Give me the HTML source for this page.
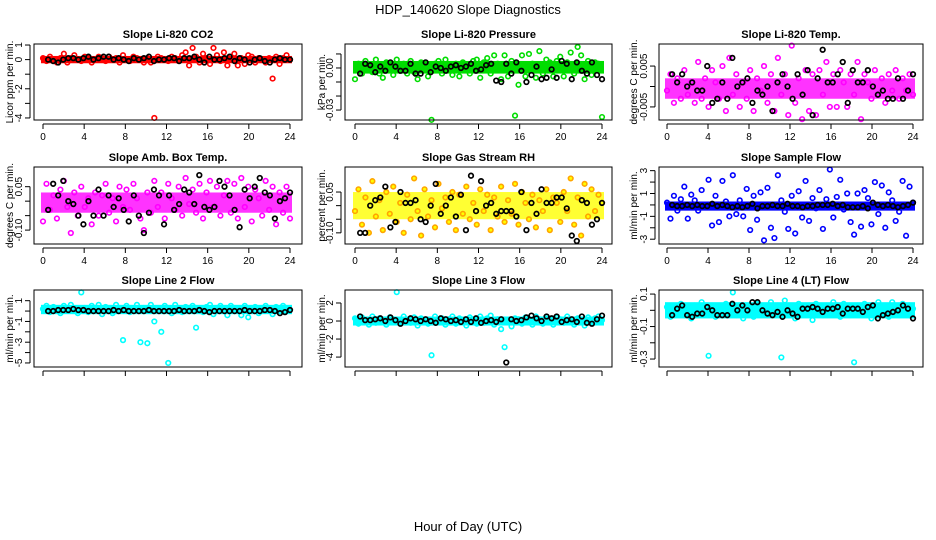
<!DOCTYPE html>
<html><head><meta charset="utf-8"><style>
body{margin:0;background:#fff;}
svg{display:block;font-family:"Liberation Sans",sans-serif;}
</style></head><body>
<svg id="chart" width="936" height="540">
<text x="468" y="14" text-anchor="middle" font-size="13">HDP_140620  Slope Diagnostics</text>
<text x="468" y="531" text-anchor="middle" font-size="13">Hour of Day (UTC)</text>
</svg>
<script>
// ---- data ----
const hourTicks = [0,4,8,12,16,20,24];
const co2Colored = [0.1,-0.1,0.2,0,-0.2,0.1,0.4,-0.2,0.1,0.3,0,-0.1,0.2,0.1,-0.2,0,0.2,0.1,-0.1,0.2,0,0.1,-0.2,0.3,0,-0.1,0.2,0.1,0,-0.2,0.1,-0.2,-4.0,0.2,0.1,0,-0.1,0.2,0.1,-0.1,0.3,0.5,-0.4,0.8,0.2,-0.2,0.4,0.1,-0.3,0.8,0.3,-0.1,0.5,-0.4,0.2,0.4,-0.4,0.1,-0.3,0.3,0.2,-0.2,0.1,0,-0.2,0.1,-1.3,0.2,-0.3,0.1,0.3,0];
const co2Black = [0,-0.1,-0.2,0,0.1,0.1,0,0.1,0.2,0,0.1,0.2,0.2,0,0.1,0,-0.1,0.1,0,0.1,0.2,-0.1,0,0,0.1,0.1,-0.1,0.1,0.1,0.2,0,-0.2,0.2,0,0,0.1,0.2,-0.1,0.1,0,-0.2,0,0.1,-0.1,-0.2,0,0.1,0,0];
const co2Band = [-0.25,0.25];
const co2Ticks = [1,0,-1,-2,-3,-4];
const co2Labels = ["1","0","","-2","","-4"];

const presColored = [-0.008,0.003,-0.004,0.005,0.002,-0.003,0.006,-0.004,-0.007,0.004,0.001,-0.005,0.006,-0.002,0.003,-0.004,0.005,-0.003,-0.008,0.004,0.002,-0.006,-0.037,0.003,0.005,-0.004,0.006,0.002,-0.005,0.003,-0.006,0.004,0.001,-0.004,0.005,0.006,-0.007,0.004,0.007,-0.004,0.009,0.003,-0.008,0.009,-0.006,0.005,-0.034,-0.012,0.009,-0.006,0.010,0.003,-0.007,0.012,-0.004,0.006,0.004,-0.006,0.005,0.008,-0.006,0.004,0.011,-0.004,0.015,0.009,-0.008,0.005,-0.005,0.004,0.003,-0.035];
const presBlack = [-0.004,0.003,0.002,-0.003,0.001,-0.002,0.004,0.001,-0.002,-0.002,0.003,-0.004,-0.004,0.004,-0.003,0.001,0,-0.002,0.001,0.002,0,0.001,0.003,-0.002,-0.001,0.002,0.003,-0.009,-0.01,0.003,-0.004,0.004,-0.002,-0.01,-0.005,0.001,-0.008,-0.007,-0.001,-0.007,0.005,0.003,-0.008,0.004,-0.002,-0.004,0.004,-0.005,-0.008];
const presBand = [-0.004,0.005];
const presTicks = [0.01,0,-0.01,-0.02,-0.03];
const presLabels = ["","0.00","","","-0.03"];

const tempColored = [-0.001,0.003,-0.004,0.002,-0.003,0.004,-0.002,0.001,-0.004,0.006,-0.003,0.002,-0.005,0.004,0.001,-0.003,0.005,-0.006,0.007,-0.002,0.003,-0.005,0.001,-0.003,0.004,-0.006,0.002,-0.001,0.005,-0.004,0.003,-0.006,0.007,-0.002,0.003,-0.007,0.010,-0.004,0.002,-0.008,0.004,-0.006,0.003,-0.007,0.004,-0.002,0.006,-0.005,0.003,-0.005,0.004,0.001,-0.005,0.003,-0.002,0.006,-0.008,0.003,0.001,-0.003,0.004,-0.002,0.002,-0.004,0.003,-0.001,0.004,-0.003,0.002,-0.001,0.003,-0.002];
const tempBlack = [0.003,0.001,0.003,0,0.001,-0.001,-0.001,0.005,-0.004,-0.003,0.001,-0.003,0.007,0,0.001,0.002,-0.004,-0.001,-0.002,0,-0.006,0.001,0.003,0,-0.003,0.003,-0.002,0.004,-0.007,0.002,0.009,0.001,0.001,0.003,0.006,-0.004,0.004,0.001,0.001,0.004,0,-0.002,-0.001,-0.003,-0.003,0.002,-0.003,-0.001,0.003];
const tempBand = [-0.003,0.002];
const tempTicks = [0.005,0,-0.005];
const tempLabels = ["0.005","","-0.005"];

const ambColored = [-0.07,0.06,-0.03,0.02,-0.06,0.04,0.07,-0.02,-0.11,0.03,-0.05,0.05,-0.02,0.01,-0.08,0.03,-0.05,0.02,0.06,-0.04,0.01,-0.07,0.05,-0.02,0.04,-0.03,0.06,0.01,-0.06,-0.10,0.03,-0.04,0.07,-0.02,0.03,-0.06,0.06,0.01,-0.03,0.05,-0.05,0.08,-0.01,0.04,-0.04,0.06,-0.06,0.03,0.07,-0.02,0.05,-0.05,0.02,0.07,-0.04,0.06,-0.06,0.08,-0.02,0.05,-0.07,0.04,0.01,-0.05,0.07,-0.03,0.05,-0.08,0.03,-0.04,0.05,-0.06];
const ambBlack = [-0.03,0.06,0.02,0.07,0,-0.01,-0.05,-0.08,0,-0.05,0.04,-0.05,0.02,-0.02,0.01,-0.03,-0.07,0.02,-0.05,-0.11,-0.04,0.04,0.02,-0.08,0.02,-0.03,-0.01,0.04,0.03,-0.01,0.09,-0.02,-0.03,-0.02,0.07,0.05,0.02,-0.03,-0.09,0.04,0.01,0.05,0.08,0.03,0.02,-0.06,0,0.01,0.03];
const ambBand = [-0.04,0.03];
const ambTicks = [0.05,0,-0.05,-0.10];
const ambLabels = ["0.05","","","-0.10"];

const rhColored = [-0.02,0.06,-0.07,0.03,-0.10,0.09,-0.04,0.02,-0.09,0.05,-0.03,0.07,-0.06,0.01,-0.10,0.04,-0.05,0.10,-0.02,-0.11,0.06,-0.04,0.02,-0.08,0.08,-0.01,0.03,-0.06,0.05,-0.09,0.04,-0.03,0.07,-0.05,0.01,-0.07,0.06,-0.02,0.04,-0.09,0.03,-0.04,0.07,-0.06,0.02,-0.03,0.08,-0.07,0.05,0.01,-0.05,0.04,-0.08,0.02,-0.02,0.06,-0.09,0.03,0.01,-0.06,0.05,-0.02,0.10,-0.07,0.03,-0.11,0.08,-0.04,0.06,-0.02,0.04,0.01];
const rhBlack = [-0.1,-0.1,0,0.02,0.03,0.07,-0.08,-0.06,0.05,0.01,0.01,0.02,-0.05,-0.06,0,0.08,-0.03,0,0.03,-0.04,0.04,-0.09,0.11,-0.02,0.09,0,0.01,-0.03,-0.02,-0.02,-0.02,-0.04,0.05,-0.09,0.01,-0.03,0.06,0.01,0.01,0.03,0.03,-0.01,-0.11,-0.13,0.02,0.01,-0.07,-0.05,0.01];
const rhBand = [-0.05,0.05];
const rhTicks = [0.05,0,-0.05,-0.10];
const rhLabels = ["0.05","","","-0.10"];

const sampColored = [0.2,-1.2,0.8,-0.5,0.5,1.6,-1.2,0.9,0.4,-0.5,1.3,-0.2,2.2,-1.8,0.8,-1.5,2.1,0.3,-1.0,2.6,-0.8,0.4,-1.0,1.4,-2.2,0.8,-1.3,1.1,-3.1,1.5,-2.0,-2.9,2.6,0.4,-0.6,-2.1,0.8,-2.5,1.2,-1.1,2.1,-1.4,0.6,-0.3,1.3,-2.1,0.5,3.1,-1.1,0.7,2.2,-0.4,1.0,-1.5,-2.6,1.0,-1.9,1.3,0.6,-1.7,2.0,-0.8,1.7,-2.0,1.1,0.4,-1.4,-0.6,2.1,-2.7,1.6,0.2];
const sampBlack = [0,-0.1,-0.1,0,-0.1,0,-0.1,-0.1,0.1,-0.1,0,-0.1,-0.2,-0.1,-0.2,-0.1,0.1,-0.3,-0.1,-0.1,0,-0.1,-0.1,0.1,-0.1,-0.1,-0.2,-0.1,-0.1,0,0,0,0.1,-0.1,0,-0.2,-0.2,-0.2,-0.1,-0.3,0.2,0,-0.1,0,-0.1,-0.2,-0.1,0,0.2];
const sampBand = [-0.5,0.3];
const sampTicks = [3,2,1,0,-1,-2,-3];
const sampLabels = ["3","","1","","-1","","-3"];

const l2Colored = [0.2,0.5,-0.1,0.4,0.1,-0.2,0.5,0.2,0.6,0.0,-0.2,1.8,0.3,-0.1,0.5,0.1,0.6,-0.3,0.4,0.2,-0.2,0.6,0.3,-2.8,0.5,-0.1,0.2,0.6,-3.0,0.3,-3.1,0.6,-1.0,0.2,-2.0,0.5,-5.0,-0.2,0.6,0.3,-0.1,0.4,0.2,0.5,-1.6,0.2,-0.1,0.4,0.6,-0.3,0.2,0.5,0.1,-0.4,0.5,0.3,0.0,-0.4,0.5,-0.6,0.2,0.4,-0.2,0.3,0.5,0.1,-0.3,0.4,0.2,0.5,0.3,0.1];
const l2Black = [0,0,0.1,0.1,0.1,0.2,0.1,0.1,0,0,0,0,0,0.1,0,0.1,0,0,0,0,0.1,0,0,0,0,0,0.1,0,0,0,0.1,0,-0.1,0,0,0,0,0,0,0.1,0,0,0,0.1,0.1,0,-0.2,-0.1,0.1];
const l2Band = [-0.3,0.6];
const l2Ticks = [1,0,-1,-2,-3,-4,-5];
const l2Labels = ["1","","-1","","-3","","-5"];

const l3Colored = [0.3,-0.3,0.4,0.1,-0.4,0.5,-0.2,0.3,0.0,-0.4,0.4,0.2,3.2,-0.3,0.5,0.1,-0.2,0.4,-0.5,0.3,0.1,-0.3,-3.8,0.5,-0.1,0.3,-0.4,0.2,0.5,-0.3,0.3,0.1,-0.5,0.4,0.2,-0.3,0.5,-0.2,0.3,0.6,-0.4,0.2,-0.9,-2.9,0.1,-0.6,0.3,0.2,-0.3,0.4,0.1,-0.4,0.5,0.2,-0.3,0.3,0.1,-0.4,0.4,0.2,-0.2,0.5,0.0,-0.4,0.3,0.1,-0.5,0.4,-0.2,0.3,0.5,0.1];
const l3Black = [0.5,0.1,0.1,0.2,0.3,0,0.4,0.1,-0.3,0,0.3,0.2,0,0.2,0,-0.2,0.3,0.2,0,0.1,-0.1,0.2,-0.1,0.3,-0.2,0,0.1,-0.1,0.2,-4.6,0.2,0,0.1,0.4,0.6,0.3,0,0.5,0.3,0.5,-0.1,0.1,0.2,-0.1,0.5,-0.2,-0.3,0.2,0.6];
const l3Band = [-0.5,0.5];
const l3Ticks = [2,0,-2,-4];
const l3Labels = ["2","0","-2","-4"];

const l4Colored = [0.02,-0.04,0.03,-0.01,0.04,-0.03,0.01,-0.05,0.03,-0.02,0.05,0.00,-0.28,0.03,-0.04,0.02,-0.02,0.04,0.01,0.11,-0.03,0.02,-0.05,0.03,0.01,-0.04,0.04,-0.02,0.02,-0.03,0.05,-0.01,0.03,-0.29,0.06,-0.03,0.02,-0.05,0.04,0.00,-0.02,0.03,-0.06,0.04,0.01,-0.03,0.03,-0.02,0.05,0.02,-0.04,0.04,0.01,-0.03,-0.32,0.03,-0.02,0.04,0.02,-0.05,0.03,0.05,-0.02,0.02,-0.04,0.05,0.01,-0.03,0.04,-0.01,0.03,0.01];
const l4Black = [-0.03,0.01,0.03,-0.03,-0.04,-0.02,-0.02,0.02,0,-0.03,-0.03,-0.03,0.04,0,0.03,0,0.05,0.05,0.0,-0.02,-0.03,-0.01,-0.04,0,-0.02,-0.04,0.01,0.01,0.02,0.01,-0.01,0.01,0.01,0.02,-0.02,0.01,0.01,0.01,-0.01,0.02,0.03,-0.05,-0.03,-0.02,-0.01,0,0.03,0.01,-0.05];
const l4Band = [-0.05,0.05];
const l4Ticks = [0.1,0,-0.1,-0.2,-0.3];
const l4Labels = ["0.1","","-0.1","","-0.3"];

// ---- layout ----
const cols = [{bx0:34,bx1:302,h0:43,h24:290,yt:10},{bx0:345,bx1:612,h0:355,h24:602,yt:322},{bx0:659,bx1:923,h0:667,h24:913,yt:634}];
const rows = [{by0:44,by1:120,showX:true},{by0:167,by1:244,showX:true},{by0:290,by1:367,showX:false}];
const panels = [
 {r:0,c:0,title:"Slope Li-820 CO2",ylab:"Licor ppm per min.",top:1.07,bot:-4.14,col:"#ff0000",fill:"none",op:1,cd:co2Colored,bd:co2Black,band:co2Band,ticks:co2Ticks,labels:co2Labels},
 {r:0,c:1,title:"Slope Li-820 Pressure",ylab:"kPa per min.",top:0.0171,bot:-0.0371,col:"#00dd00",fill:"none",op:1,cd:presColored,bd:presBlack,band:presBand,ticks:presTicks,labels:presLabels},
 {r:0,c:2,title:"Slope Li-820 Temp.",ylab:"degrees C per min.",top:0.0104,bot:-0.0082,col:"#ff00ff",fill:"none",op:0.8,cd:tempColored,bd:tempBlack,band:tempBand,ticks:tempTicks,labels:tempLabels},
 {r:1,c:0,title:"Slope Amb. Box Temp.",ylab:"degrees C per min.",top:0.118,bot:-0.148,col:"#ff00ff",fill:"none",op:0.8,cd:ambColored,bd:ambBlack,band:ambBand,ticks:ambTicks,labels:ambLabels},
 {r:1,c:1,title:"Slope Gas Stream RH",ylab:"percent per min.",top:0.142,bot:-0.141,col:"#ffa500",fill:"#ffff00",op:0.8,cd:rhColored,bd:rhBlack,band:rhBand,ticks:rhTicks,labels:rhLabels},
 {r:1,c:2,title:"Slope Sample Flow",ylab:"ml/min per min.",top:3.32,bot:-3.42,col:"#0000ff",fill:"none",op:1,cd:sampColored,bd:sampBlack,band:sampBand,ticks:sampTicks,labels:sampLabels},
 {r:2,c:0,title:"Slope Line 2 Flow",ylab:"ml/min per min.",top:2.03,bot:-5.39,col:"#00ffff",fill:"none",op:1,cd:l2Colored,bd:l2Black,band:l2Band,ticks:l2Ticks,labels:l2Labels},
 {r:2,c:1,title:"Slope Line 3 Flow",ylab:"ml/min per min.",top:3.44,bot:-5.1,col:"#00ffff",fill:"none",op:1,cd:l3Colored,bd:l3Black,band:l3Band,ticks:l3Ticks,labels:l3Labels},
 {r:2,c:2,title:"Slope Line 4 (LT) Flow",ylab:"ml/min per min.",top:0.125,bot:-0.349,col:"#00ffff",fill:"none",op:1,cd:l4Colored,bd:l4Black,band:l4Band,ticks:l4Ticks,labels:l4Labels}
];
const NS="http://www.w3.org/2000/svg";
const svg=document.getElementById('chart');
function mk(tag,attrs,parent){const e=document.createElementNS(NS,tag);for(const k in attrs)e.setAttribute(k,attrs[k]);(parent||svg).appendChild(e);return e;}
panels.forEach((p,pi)=>{
 const C=cols[p.c],R=rows[p.r];
 const g=mk('g',{});
 
 
 const xs=h=>C.h0+(h/24)*(C.h24-C.h0);
 const ys=v=>R.by0+(p.top-v)/(p.top-p.bot)*(R.by1-R.by0);
 const bandR=mk('rect',{x:xs(0)-2,y:ys(p.band[1]),width:xs(24)-xs(0)+4,height:ys(p.band[0])-ys(p.band[1]),fill:p.fill==="none"?p.col:p.fill,opacity:p.op},g);
 
 
 const n=p.cd.length;
 p.cd.forEach((v,i)=>{
  const c=mk('circle',{cx:xs(i*24/(n-1)),cy:ys(v),r:2.3,fill:p.fill,stroke:p.col,'stroke-width':1.6},g);
  
  
 });
 const m=p.bd.length;
 p.bd.forEach((v,i)=>{
  const c=mk('circle',{cx:xs(0.5+i*23.5/(m-1)),cy:ys(v),r:2.3,fill:'none',stroke:'#000','stroke-width':1.7},g);
  
  
 });
 const box=mk('rect',{x:C.bx0,y:R.by0,width:C.bx1-C.bx0,height:R.by1-R.by0,fill:'none',stroke:'#000','stroke-width':1},g);
 
 
 const t=mk('text',{x:(C.bx0+C.bx1)/2,y:R.by0-6,'text-anchor':'middle','font-size':11,'font-weight':'bold'},g);
 t.textContent=p.title;
 
 
 mk('line',{x1:xs(0),x2:xs(24),y1:R.by1+4,y2:R.by1+4,stroke:'#000'},g);
 hourTicks.forEach(h=>{
  mk('line',{x1:xs(h),x2:xs(h),y1:R.by1+4,y2:R.by1+9,stroke:'#000'},g);
  if(R.showX){const l=mk('text',{x:xs(h),y:R.by1+20,'text-anchor':'middle','font-size':10},g);l.textContent=h;
   
   }
 });
 const ax=C.bx0-4;
 mk('line',{x1:ax,x2:ax,y1:ys(p.ticks[0]),y2:ys(p.ticks[p.ticks.length-1]),stroke:'#000'},g);
 p.ticks.forEach((v,i)=>{
  mk('line',{x1:ax-5,x2:ax,y1:ys(v),y2:ys(v),stroke:'#000'},g);
  if(p.labels[i]){const l=mk('text',{x:ax-8,y:ys(v),'text-anchor':'middle','font-size':10,transform:`rotate(-90 ${ax-8} ${ys(v)})`},g);l.textContent=p.labels[i];
   
   }
 });
 const yl=mk('text',{x:C.yt,y:(R.by0+R.by1)/2,'text-anchor':'middle','font-size':10,transform:`rotate(-90 ${C.yt} ${(R.by0+R.by1)/2})`,dy:3},g);
 yl.textContent=p.ylab;
 
 
});
</script>
</body></html>
